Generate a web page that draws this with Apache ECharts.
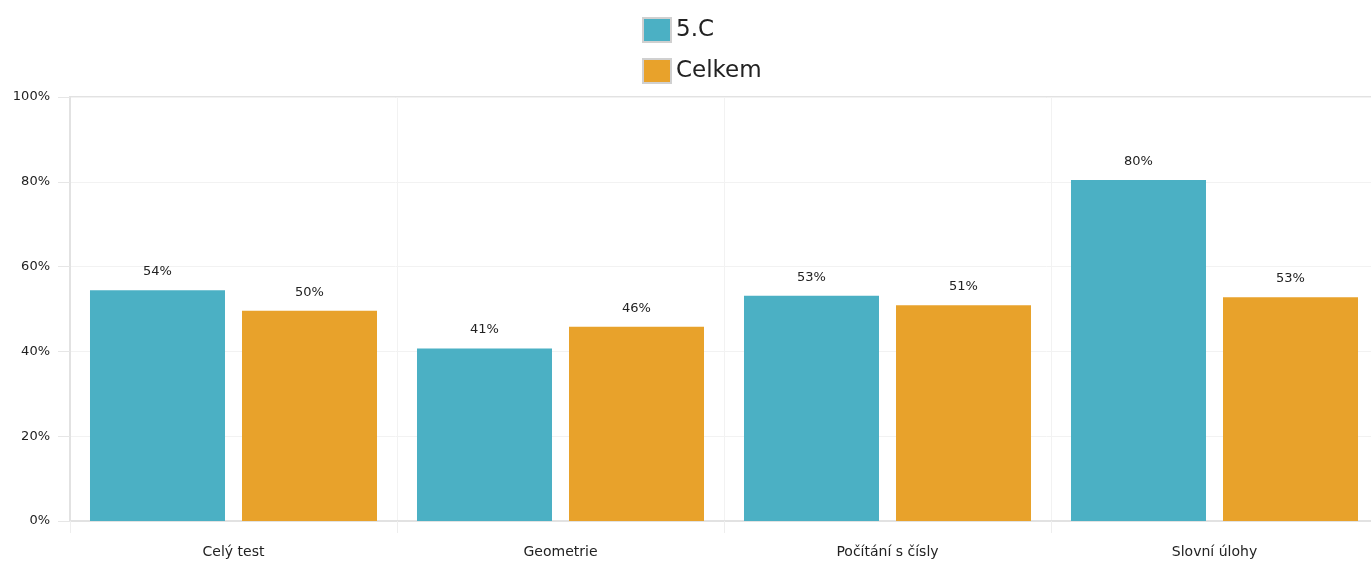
<!DOCTYPE html>
<html>
<head>
<meta charset="utf-8">
<script src="https://cdn.jsdelivr.net/npm/echarts@6/dist/echarts.min.js"></script>
<style>
  html, body { margin: 0; padding: 0; background: #fff; }
  #chart { width: 1371px; height: 565px; }
</style>
</head>
<body>
<div id="chart"></div>
<script>
// kategorie a hodnoty (v %)
const categories = ['Celý test', 'Geometrie', 'Počítání s čísly', 'Slovní úlohy']
const tridaValues = [54.4, 40.7, 53.1, 80.4]
const celkemValues = [49.6, 45.8, 50.9, 52.8]
const yTicks = [0, 20, 40, 60, 80, 100]

const chart = echarts.init(document.getElementById('chart'))

const labelStyle = {
  show: true,
  position: 'top',
  distance: 12,
  color: '#222',
  fontSize: 13,
  fontFamily: 'DejaVu Sans',
  formatter: p => Math.round(p.value) + '%'
}

const option = {
  animation: false,
  textStyle: { fontFamily: 'DejaVu Sans' },
  legend: {
    orient: 'vertical',
    left: 637,
    top: 12,
    icon: 'rect',
    itemWidth: 28,
    itemHeight: 24,
    itemGap: 15,
    textStyle: { fontSize: 23, color: '#222', fontFamily: 'DejaVu Sans' },
    itemStyle: { borderColor: '#d0d0d0', borderWidth: 2 },
    data: ['5.C', 'Celkem']
  },
  grid: {
    left: 70,
    width: 1308,
    top: 97,
    bottom: 44,
    outerBoundsMode: 'none',
    show: true,
    borderColor: '#e2e2e2',
    borderWidth: 2
  },
  xAxis: {
    type: 'category',
    data: categories,
    axisLine: { lineStyle: { color: '#e2e2e2', width: 2 } },
    axisTick: { show: true, length: 12, lineStyle: { color: '#eee' } },
    axisLabel: { color: '#222', fontSize: 14, margin: 24 },
    splitLine: { show: true, lineStyle: { color: '#f2f2f2' } }
  },
  yAxis: {
    type: 'value',
    min: yTicks[0],
    max: yTicks[yTicks.length - 1],
    interval: 20,
    axisLine: { show: true, lineStyle: { color: '#e2e2e2', width: 2 } },
    axisTick: { show: true, length: 12, lineStyle: { color: '#e6e6e6' } },
    axisLabel: { color: '#222', fontSize: 13, margin: 20, formatter: '{value}%' },
    splitLine: { lineStyle: { color: '#f2f2f2' } }
  },
  series: [
    {
      name: '5.C',
      type: 'bar',
      data: tridaValues,
      barWidth: 135,
      barGap: '12.6%',
      itemStyle: { color: '#4bb0c4' },
      label: labelStyle
    },
    {
      name: 'Celkem',
      type: 'bar',
      data: celkemValues,
      barWidth: 135,
      itemStyle: { color: '#e8a22b' },
      label: labelStyle
    }
  ]
}

chart.setOption(option)
</script>
</body>
</html>
